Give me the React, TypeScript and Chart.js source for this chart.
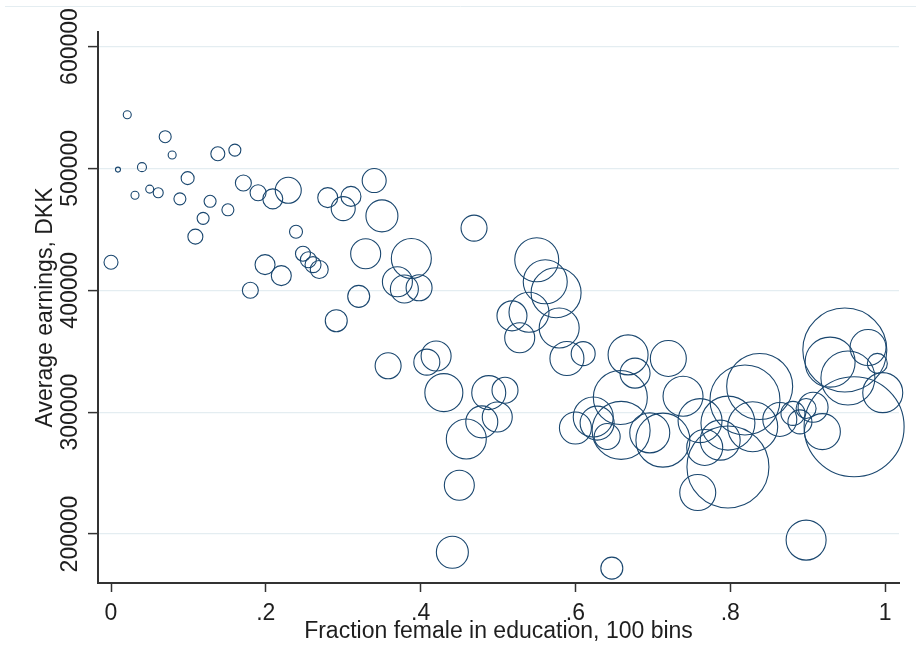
import React, { useEffect, useRef } from "react";
import { Chart, registerables } from "chart.js";

Chart.register(...registerables);

// ---- Data ----
const fractionFemale = [
  0.0, 0.009, 0.021, 0.031, 0.04, 0.05, 0.061, 0.07, 0.079, 0.089,
  0.099, 0.109, 0.119, 0.128, 0.138, 0.151, 0.16, 0.171, 0.18, 0.19,
  0.199, 0.209, 0.22, 0.229, 0.239, 0.248, 0.255, 0.261, 0.269, 0.28,
  0.291, 0.3, 0.31, 0.32, 0.329, 0.34, 0.35, 0.358, 0.37, 0.379,
  0.388, 0.398, 0.408, 0.42, 0.43, 0.441, 0.45, 0.459, 0.469, 0.479,
  0.488, 0.499, 0.509, 0.518, 0.528, 0.54, 0.55, 0.561, 0.575, 0.579,
  0.589, 0.6, 0.61, 0.623, 0.628, 0.641, 0.647, 0.658, 0.659, 0.668,
  0.677, 0.696, 0.713, 0.72, 0.739, 0.758, 0.761, 0.767, 0.787, 0.797,
  0.797, 0.819, 0.829, 0.838, 0.864, 0.881, 0.89, 0.898, 0.898, 0.907,
  0.919, 0.929, 0.948, 0.952, 0.96, 0.978, 0.99, 0.997,
];

const avgEarnings = [
  423000, 499000, 544000, 478000, 501000, 483000, 480000, 526000, 511000, 475000,
  492000, 444000, 459000, 473000, 512000, 466000, 515000, 488000, 400000, 480000,
  421000, 475000, 412000, 482000, 448000, 430000, 425000, 421000, 417000, 476000,
  375000, 467000, 477000, 395000, 430000, 490000, 461000, 338000, 407000, 401000,
  426000, 402000, 341000, 346000, 316000, 185000, 240000, 278000, 451000, 292000,
  316000, 296000, 318000, 379000, 361000, 382000, 425000, 407000, 398000, 369000,
  344000, 287000, 348000, 296000, 291000, 280000, 172000, 312000, 285000, 347000,
  332000, 283000, 277000, 344000, 313000, 234000, 293000, 271000, 277000, 255000,
  291000, 310000, 288000, 321000, 294000, 299000, 292000, 303000, 195000, 304000,
  284000, 341000, 351000, 328000, 288000, 353000, 340000, 316000,
];

// bubble size (relative bin weight, rendered as radius)
const binSize = [
  7, 2.5, 4, 4, 4.5, 4, 5, 6, 4, 6,
  6.5, 7.5, 6, 6, 7, 6, 6, 8, 8, 8,
  10, 10, 10, 13, 6.5, 7.5, 8, 8, 9, 10,
  11, 12, 10, 11, 15, 12, 16, 13, 15, 14,
  20, 13, 13, 15, 19, 16, 15, 20, 13, 16,
  17, 15, 13, 15, 15, 20, 22, 22, 25, 20,
  17, 16, 12, 20, 17, 13, 11, 27, 29, 20,
  15, 20, 27, 18, 20, 18, 22, 18, 20, 41,
  27, 35, 25, 33, 17, 12, 12, 10, 20, 15,
  18, 25, 42, 27, 50, 18, 10, 20,
];

const xTicks = [0, 0.2, 0.4, 0.6, 0.8, 1];
const xTickLabels = ["0", ".2", ".4", ".6", ".8", "1"];
const yTicks = [200000, 300000, 400000, 500000, 600000];
const yTickLabels = ["200000", "300000", "400000", "500000", "600000"];
const xTitle = "Fraction female in education, 100 bins";
const yTitle = "Average earnings, DKK";

const X_MIN = -0.0168;
const X_MAX = 1.018;
const Y_MIN = 159800;
const Y_MAX = 611900;

const FONT = '23px "Liberation Sans", Arial, sans-serif';
const TEXT_COLOR = "#1e1e1e";
const AXIS_COLOR = "#333333";
const NAVY = "#1a476f";

const stataText = {
  id: "stataText",
  beforeDraw(chart: any) {
    const ctx = chart.ctx;
    ctx.save();
    ctx.strokeStyle = "#e4edf1";
    ctx.lineWidth = 1;
    ctx.beginPath();
    ctx.moveTo(5, 6.5);
    ctx.lineTo(chart.width, 6.5);
    ctx.stroke();
    ctx.restore();
  },
  afterDraw(chart: any) {
    const { ctx, chartArea } = chart;
    const xs = chart.scales.x;
    const ys = chart.scales.y;
    ctx.save();
    ctx.fillStyle = TEXT_COLOR;
    ctx.font = FONT;
    ctx.textAlign = "center";
    ctx.textBaseline = "alphabetic";
    xTicks.forEach((v, i) => {
      ctx.fillText(xTickLabels[i], xs.getPixelForValue(v), 620);
    });
    ctx.fillText(xTitle, (chartArea.left + chartArea.right) / 2, 638);
    yTicks.forEach((v, i) => {
      ctx.save();
      ctx.translate(77, ys.getPixelForValue(v));
      ctx.rotate(-Math.PI / 2);
      ctx.fillText(yTickLabels[i], 0, 0);
      ctx.restore();
    });
    ctx.save();
    ctx.translate(52, (chartArea.top + chartArea.bottom) / 2);
    ctx.rotate(-Math.PI / 2);
    ctx.fillText(yTitle, 0, 0);
    ctx.restore();
    ctx.restore();
  },
};

export default function App() {
  const canvasRef = useRef<HTMLCanvasElement | null>(null);

  useEffect(() => {
    const canvas = canvasRef.current;
    if (!canvas) return;
    const chart = new Chart(canvas, {
      type: "bubble",
      data: {
        datasets: [
          {
            data: fractionFemale.map((x, i) => ({ x, y: avgEarnings[i], r: binSize[i] })),
            backgroundColor: "rgba(0,0,0,0)",
            borderColor: NAVY,
            borderWidth: 1.1,
            clip: false as any,
          },
        ],
      },
      options: {
        animation: false,
        responsive: false,
        devicePixelRatio: 1,
        events: [],
        layout: { autoPadding: false, padding: { left: 0, top: 32, right: 17, bottom: 0 } },
        plugins: {
          legend: { display: false },
          tooltip: { enabled: false },
          title: { display: false },
        },
        scales: {
          x: {
            type: "linear",
            min: X_MIN,
            max: X_MAX,
            bounds: "data",
            afterBuildTicks: (s: any) => {
              s.ticks = xTicks.map((v) => ({ value: v }));
            },
            afterFit: (s: any) => {
              s.height = 87;
            },
            ticks: { display: false },
            grid: {
              drawOnChartArea: false,
              drawTicks: true,
              tickLength: 9,
              tickWidth: 1.5,
              tickColor: AXIS_COLOR,
            },
            border: { display: true, color: AXIS_COLOR, width: 2 },
          },
          y: {
            type: "linear",
            min: Y_MIN,
            max: Y_MAX,
            bounds: "data",
            afterBuildTicks: (s: any) => {
              s.ticks = yTicks.map((v) => ({ value: v }));
            },
            afterFit: (s: any) => {
              s.width = 98;
            },
            ticks: { display: false },
            grid: {
              color: "#e4edf1",
              lineWidth: 1.2,
              drawTicks: true,
              tickLength: 10,
              tickWidth: 1.5,
              tickColor: AXIS_COLOR,
            },
            border: { display: true, color: AXIS_COLOR, width: 2 },
          },
        },
      } as any,
      plugins: [stataText],
    });
    return () => chart.destroy();
  }, []);

  return (
    <div style={{ position: "absolute", left: 0, top: 0, width: 916, height: 670, background: "#fff" }}>
      <canvas ref={canvasRef} width={916} height={670} style={{ display: "block" }} />
    </div>
  );
}
